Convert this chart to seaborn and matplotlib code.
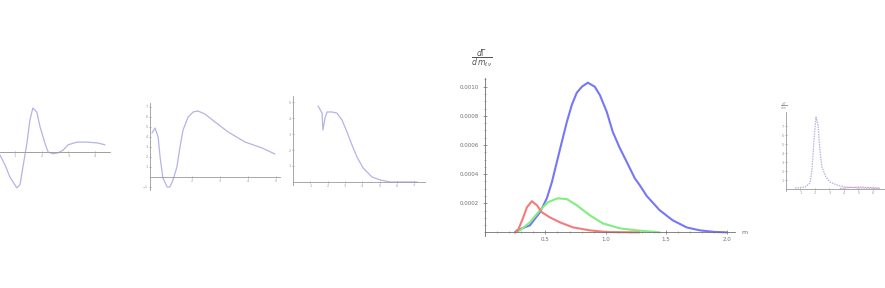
import numpy as np
import pandas as pd
import matplotlib
matplotlib.use("Agg")
import matplotlib.pyplot as plt
from matplotlib.ticker import MultipleLocator
import seaborn as sns

sns.set_theme(style="white")
plt.rcParams['font.family'] = ['DejaVu Sans']

W, H = 885, 288

# ---------- data ----------
# small plot 1
p1_x = [0.44, 0.63, 0.81, 1.07, 1.19, 1.30, 1.45, 1.56, 1.67, 1.82, 1.94, 2.12, 2.24, 2.42, 2.61, 2.80, 2.99, 3.32, 3.73, 4.11, 4.37]
p1_y = [-0.07, -0.29, -0.56, -0.80, -0.73, -0.33, 0.20, 0.71, 0.98, 0.89, 0.56, 0.20, 0.00, -0.04, -0.02, 0.04, 0.16, 0.22, 0.22, 0.20, 0.16]
p1_xticks = [1, 2, 3, 4]

# small plot 2
p2_x = [0.57, 0.68, 0.79, 0.86, 0.96, 1.11, 1.21, 1.32, 1.46, 1.57, 1.68, 1.86, 2.04, 2.21, 2.46, 2.82, 3.29, 3.89, 4.50, 4.96]
p2_y = [4.4, 4.9, 4.0, 2.0, -0.1, -1.0, -1.0, -0.3, 1.0, 3.0, 4.7, 6.0, 6.5, 6.6, 6.3, 5.5, 4.5, 3.5, 2.9, 2.3]
p2_xticks = [2, 3, 4, 5]
p2_yticks = [-1, 1, 2, 3, 4, 5, 6, 7]

# small plot 3
p3_x = [1.45, 1.68, 1.73, 1.85, 1.97, 2.25, 2.54, 2.83, 3.12, 3.41, 3.70, 4.05, 4.57, 5.03, 5.61, 7.17]
p3_y = [4.75, 4.31, 3.25, 4.00, 4.38, 4.38, 4.31, 3.88, 3.13, 2.31, 1.56, 0.88, 0.31, 0.13, 0.0, 0.0]
p3_xticks = [1, 2, 3, 4, 5, 6, 7]
p3_yticks = [1, 2, 3, 4, 5]

# main plot
m_blue_x = [0.248, 0.264, 0.372, 0.455, 0.512, 0.554, 0.595, 0.636, 0.678, 0.719, 0.760, 0.802, 0.851, 0.909, 0.950, 1.008, 1.058, 1.116, 1.174, 1.240, 1.281, 1.339, 1.446, 1.554, 1.670, 1.777, 1.900, 2.000]
m_blue_y = [0.0, 0.0000138, 0.0000483, 0.000138, 0.000234, 0.000345, 0.000483, 0.000621, 0.000759, 0.000876, 0.000959, 0.001000, 0.001028, 0.001000, 0.000945, 0.000828, 0.000690, 0.000579, 0.000483, 0.000372, 0.000324, 0.000250, 0.000152, 0.000083, 0.000034, 0.000014, 0.000003, 0.0]
m_red_x = [0.248, 0.273, 0.314, 0.347, 0.388, 0.430, 0.471, 0.537, 0.620, 0.727, 0.868, 1.008, 1.280]
m_red_y = [0.0, 0.0000138, 0.0000966, 0.000172, 0.000214, 0.000186, 0.000138, 0.000103, 0.000069, 0.0000345, 0.0000138, 0.000002, 0.0]
m_green_x = [0.248, 0.289, 0.372, 0.455, 0.521, 0.603, 0.678, 0.760, 0.868, 0.975, 1.116, 1.256, 1.446]
m_green_y = [0.0, 0.0000138, 0.000069, 0.000152, 0.000207, 0.000234, 0.000228, 0.000186, 0.000117, 0.000062, 0.0000276, 0.0000138, 0.0]
m_xticks = [0.5, 1.0, 1.5, 2.0]
m_xticklabels = ["0.5", "1.0", "1.5", "2.0"]
m_yticks = [0.0002, 0.0004, 0.0006, 0.0008, 0.0010]
m_yticklabels = ["0.0002", "0.0004", "0.0006", "0.0008", "0.0010"]

# small plot 5
p5_x = [0.62, 1.31, 1.66, 1.79, 1.93, 2.07, 2.21, 2.34, 2.48, 2.76, 3.03, 3.52, 4.07, 5.10, 6.48]
p5_y = [0.11, 0.22, 0.67, 2.11, 5.44, 8.0, 7.11, 4.33, 2.44, 1.33, 0.78, 0.44, 0.22, 0.11, 0.06]
p5_red_x = [3.72, 4.41, 5.10, 5.79, 6.48]
p5_red_y = [0.06, 0.17, 0.22, 0.17, 0.11]
p5_xticks = [1, 2, 3, 4, 5, 6]
p5_yticks = [1, 2, 3, 4, 5, 6, 7]

# ---------- drawing ----------
fig = plt.figure(figsize=(W / 100, H / 100), dpi=100)
fig.patch.set_facecolor("white")


def add_px_axes(x0, y0, x1, y1):
    """x0,x1 left/right pixel; y0 top pixel, y1 bottom pixel"""
    ax = fig.add_axes([x0 / W, 1 - y1 / H, (x1 - x0) / W, (y1 - y0) / H])
    ax.set_facecolor("none")
    return ax


def mathematica_axes(ax, color="#9a9a9a", fs=2.5, show_left=True, pad=1):
    for s in ("top", "right"):
        ax.spines[s].set_visible(False)
    ax.spines["bottom"].set_position(("data", 0))
    ax.spines["left"].set_position(("data", 0))
    ax.spines["left"].set_visible(show_left)
    for s in ("left", "bottom"):
        ax.spines[s].set_color(color)
        ax.spines[s].set_linewidth(0.6)
    ax.tick_params(axis="both", length=1.5, width=0.5, colors=color,
                   labelsize=fs, pad=pad, direction="inout")
    ax.tick_params(axis="both", which="both", bottom=True, left=show_left)
    ax.grid(False)


pale = "#b4b4e6"

# plot 1
ax1 = add_px_axes(0, 100, 110, 195)
ax1.axhline(0, color="#e8b8c8", linewidth=0.6, zorder=0)
sns.lineplot(x=p1_x, y=p1_y, ax=ax1, color=pale, linewidth=0.9, sort=False)
ax1.set_xlim(0.44, 4.56)
ax1.set_ylim(-0.96, 1.16)
mathematica_axes(ax1, show_left=False)
ax1.set_xticks(p1_xticks)
ax1.set_yticks([])

# plot 2
ax2 = add_px_axes(150, 103, 280, 190)
sns.lineplot(x=p2_x, y=p2_y, ax=ax2, color=pale, linewidth=0.9, sort=False)
ax2.set_xlim(0.5, 5.14)
ax2.set_ylim(-1.3, 7.4)
mathematica_axes(ax2)
ax2.spines["left"].set_position(("data", 0.5))
ax2.set_xticks(p2_xticks)
ax2.set_yticks(p2_yticks)

# plot 3
ax3 = add_px_axes(293, 96, 425, 185)
sns.lineplot(x=p3_x, y=p3_y, ax=ax3, color=pale, linewidth=0.9, sort=False)
ax3.set_xlim(0, 7.63)
ax3.set_ylim(-0.19, 5.38)
mathematica_axes(ax3)
ax3.set_xticks(p3_xticks)
ax3.set_yticks(p3_yticks)

# main plot
axm = add_px_axes(485, 78, 735, 236)
df_main = pd.concat([
    pd.DataFrame({"m": m_blue_x, "v": m_blue_y, "s": "blue"}),
    pd.DataFrame({"m": m_green_x, "v": m_green_y, "s": "green"}),
    pd.DataFrame({"m": m_red_x, "v": m_red_y, "s": "red"}),
])
sns.lineplot(data=df_main, x="m", y="v", hue="s", ax=axm, sort=False,
             palette={"blue": "#7676f8", "green": "#80ee80", "red": "#f27c7c"},
             linewidth=1.5, legend=False)
axm.set_xlim(0, 2.07)
axm.set_ylim(-0.000025, 0.00106)
mathematica_axes(axm, color="#707070", fs=4, pad=3)
axm.set_xticks(m_xticks)
axm.set_xticklabels(m_xticklabels)
axm.set_yticks(m_yticks)
axm.set_yticklabels(m_yticklabels)
axm.xaxis.set_minor_locator(MultipleLocator(0.1))
axm.yaxis.set_minor_locator(MultipleLocator(0.00005))
axm.tick_params(which="major", length=3)
axm.tick_params(which="minor", length=1.5, width=0.4, color="#808080",
                direction="inout")
axm.tick_params(axis="x", pad=2)
axm.set_xlabel("")
axm.set_ylabel("")
axm.text(1.025, 0.0235, "m", transform=axm.transAxes, fontsize=4.5,
         color="#707070", ha="left", va="center")
fig.text(482 / W, 1 - 59 / H, r"$\frac{d\Gamma}{d\,m_{\ell\nu}}$", fontsize=8,
         color="#555555", ha="center", va="center")

# plot 5
ax5 = add_px_axes(786, 112, 885, 191)
sns.lineplot(x=p5_x, y=p5_y, ax=ax5, color=pale, linewidth=0.9,
             linestyle=(0, (1.2, 0.8)), sort=False)
sns.lineplot(x=p5_red_x, y=p5_red_y, ax=ax5, color="#d8a0c0", linewidth=0.9,
             linestyle=(0, (1.2, 0.8)), sort=False)
ax5.set_xlim(0, 6.83)
ax5.set_ylim(-0.22, 8.56)
mathematica_axes(ax5)
ax5.set_xticks(p5_xticks)
ax5.set_yticks(p5_yticks)
fig.text(784 / W, 1 - 106 / H, r"$\frac{d\Gamma}{dm}$", fontsize=3.5,
         color="#999999", ha="center", va="center")

fig.savefig("out.png", dpi=100, facecolor="white")
